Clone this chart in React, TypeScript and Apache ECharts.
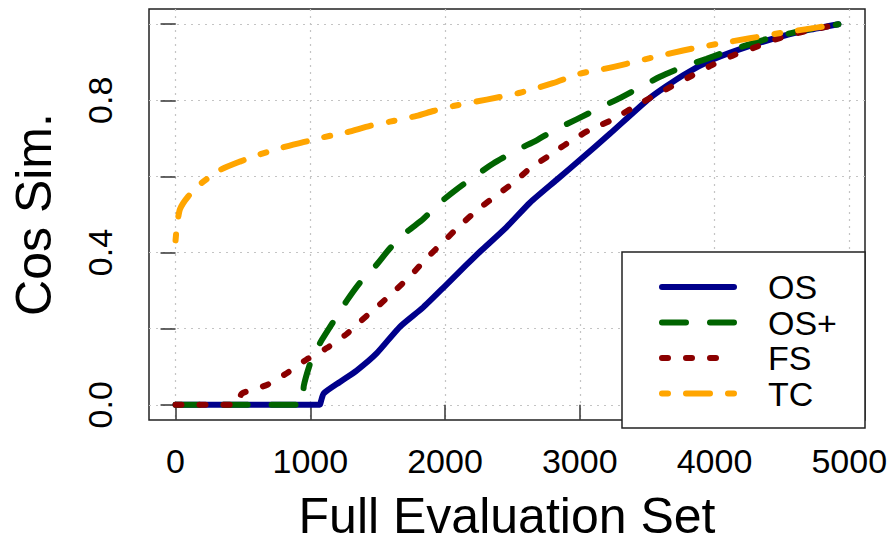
import React, { useEffect, useRef } from "react";
import * as echarts from "echarts";

const seriesNames = ["OS", "OS+", "FS", "TC"];
const seriesColors = ["#00008B", "#006400", "#8B0000", "#FFA500"];

const xTicks = [0, 1000, 2000, 3000, 4000, 5000];
const yTicks = [0, 0.2, 0.4, 0.6, 0.8, 1.0];
const yLabelTicks = [0, 0.4, 0.8];

const osData = [
  [0, 0], [1070, 0], [1080, 0.01], [1100, 0.03], [1220, 0.06], [1344, 0.09],
  [1492, 0.135], [1665, 0.205], [1838, 0.256], [2000, 0.312], [2160, 0.368],
  [2259, 0.402], [2457, 0.467], [2630, 0.531], [2828, 0.591], [3000, 0.643],
  [3223, 0.712], [3520, 0.806], [3767, 0.866], [4000, 0.909], [4262, 0.943],
  [4507, 0.969], [4700, 0.985], [4920, 1.0],
];

const osPlusData = [
  [0, 0], [945, 0], [952, 0.05], [1010, 0.12], [1085, 0.17], [1183, 0.225],
  [1270, 0.273], [1369, 0.321], [1492, 0.368], [1591, 0.411], [1715, 0.454],
  [1838, 0.488], [1962, 0.531], [2086, 0.566], [2234, 0.604], [2358, 0.634],
  [2531, 0.669], [2680, 0.695], [2828, 0.725], [2976, 0.75], [3199, 0.789],
  [3298, 0.806], [3595, 0.862], [3767, 0.888], [3941, 0.909], [4114, 0.931],
  [4386, 0.961], [4633, 0.982], [4920, 1.0],
];

const fsData = [
  [0, 0], [455, 0], [491, 0.029], [677, 0.052], [825, 0.083], [973, 0.119],
  [1122, 0.149], [1270, 0.186], [1381, 0.222], [1517, 0.264], [1641, 0.304],
  [1752, 0.342], [1863, 0.385], [1987, 0.428], [2111, 0.471], [2234, 0.51],
  [2358, 0.544], [2506, 0.583], [2630, 0.621], [2778, 0.656], [2902, 0.686],
  [3062, 0.72], [3223, 0.746], [3372, 0.776], [3520, 0.806], [3668, 0.834],
  [3817, 0.862], [3978, 0.892], [4138, 0.918], [4299, 0.939], [4460, 0.961],
  [4633, 0.978], [4920, 1.0],
];

const tcData = [
  [0, 0.432], [10, 0.47], [33, 0.514], [95, 0.548], [194, 0.583], [330, 0.617],
  [478, 0.639], [627, 0.658], [800, 0.677], [948, 0.69], [1097, 0.703],
  [1270, 0.716], [1443, 0.733], [1591, 0.744], [1789, 0.759], [1913, 0.772],
  [2061, 0.785], [2309, 0.802], [2557, 0.82], [2800, 0.845], [3000, 0.87],
  [3199, 0.884], [3347, 0.896], [3520, 0.911], [3767, 0.931], [4015, 0.948],
  [4262, 0.963], [4509, 0.978], [4757, 0.991], [4920, 1.0],
];

const seriesData = [osData, osPlusData, fsData, tcData];
const seriesDash: any[] = ["solid", [24, 24], [6, 18], [6, 18, 24, 18]];

const FONT = "'Liberation Sans', Arial, Helvetica, sans-serif";

export default function App() {
  const ref = useRef<HTMLDivElement>(null);
  useEffect(() => {
    document.body.style.margin = "0";
    if (!ref.current) return;
    const chart = echarts.init(ref.current, undefined, { renderer: "svg" });
    const gridLine = { show: true, lineStyle: { color: "#c4c4c4", width: 1.2, type: [2, 5] as any } };
    chart.setOption({
      animation: false,
      backgroundColor: "#fff",
      textStyle: { fontFamily: FONT, color: "#000" },
      grid: {
        left: 149, right: 28, top: 9, bottom: 118,
        show: true, borderColor: "#222", borderWidth: 1.5, backgroundColor: "transparent",
      },
      xAxis: {
        type: "value",
        min: -197,
        max: 5117,
        name: "Full Evaluation Set",
        nameLocation: "middle",
        nameGap: 71,
        nameTextStyle: { fontSize: 50, fontFamily: FONT, color: "#000" },
        axisLine: { show: false },
        axisTick: { show: true, length: 15, customValues: xTicks, lineStyle: { color: "#333", width: 1.5 } },
        axisLabel: {
          customValues: xTicks,
          fontSize: 34,
          margin: 24,
          color: "#000",
          fontFamily: FONT,
          formatter: (v: number) => String(v),
        },
        splitLine: gridLine,
      },
      yAxis: {
        type: "value",
        min: -0.04,
        max: 1.04,
        name: "Cos Sim.",
        nameLocation: "middle",
        nameGap: 90,
        nameTextStyle: { fontSize: 50, fontFamily: FONT, color: "#000" },
        axisLine: { show: false },
        axisTick: { show: true, length: 15, customValues: yTicks, lineStyle: { color: "#333", width: 1.5 } },
        axisLabel: {
          customValues: yLabelTicks,
          rotate: 90,
          fontSize: 34,
          margin: 32,
          color: "#000",
          fontFamily: FONT,
          formatter: (v: number) => v.toFixed(1),
        },
        splitLine: gridLine,
      },
      graphic: [
        {
          type: "rect",
          z: 3,
          shape: { x: 622, y: 252, width: 243, height: 176 },
          style: { fill: "#fff", stroke: "#222", lineWidth: 1.5 },
        },
      ],
      legend: {
        z: 6,
        orient: "vertical",
        left: 659,
        top: 270,
        padding: 0,
        itemWidth: 72,
        itemHeight: 14,
        itemGap: 1.5,
        selectedMode: false,
        data: seriesNames,
        itemStyle: { opacity: 0 },
        lineStyle: { width: 6, cap: "round", opacity: 1 },
        textStyle: { fontSize: 34, color: "#000", fontFamily: FONT, padding: [0, 0, 0, 29] },
      },
      series: seriesNames.map((name, i) => ({
        name,
        type: "line",
        data: seriesData[i],
        showSymbol: false,
        symbol: "none",
        smooth: 0.2,
        color: seriesColors[i],
        z: 2 + i * 0.01,
        lineStyle: { color: seriesColors[i], width: 6, type: seriesDash[i], cap: "round", join: "round" },
      })),
    });
    return () => chart.dispose();
  }, []);
  return <div ref={ref} style={{ width: 893, height: 546 }} />;
}
